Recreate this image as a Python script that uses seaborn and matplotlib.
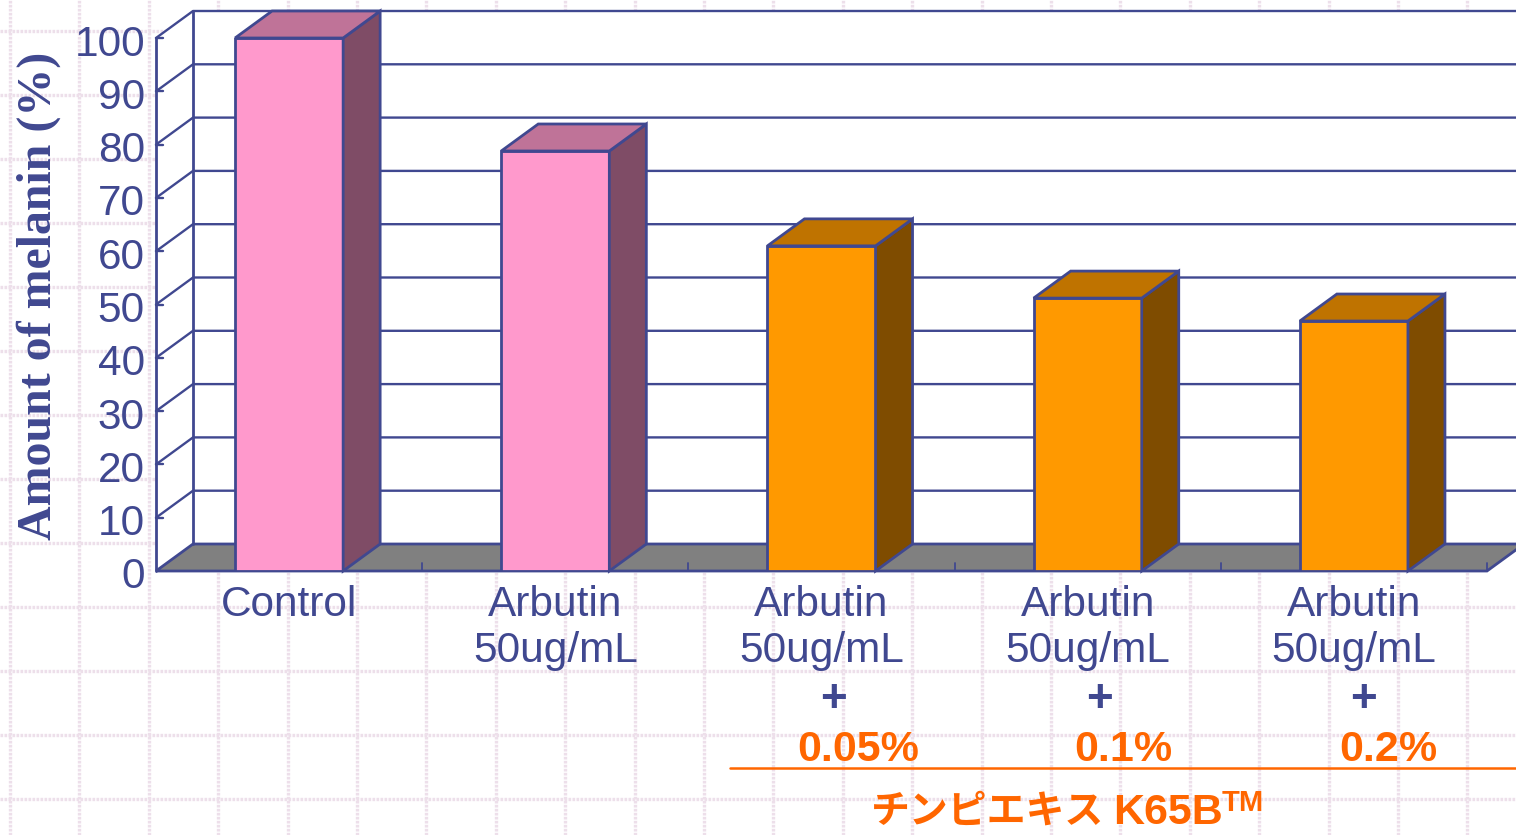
import numpy as np
import pandas as pd
import matplotlib.pyplot as plt
import matplotlib.transforms as mtrans
import seaborn as sns

# values
conditions = ['control', 'arbutin', 'k65b_005', 'k65b_01', 'k65b_02']
x_labels = ['Control', 'Arbutin\n50ug/mL', 'Arbutin\n50ug/mL', 'Arbutin\n50ug/mL', 'Arbutin\n50ug/mL']
melanin = [100, 78.8, 61, 51.2, 46.9]
groups = ['ref', 'ref', 'k65b', 'k65b', 'k65b']
y_ticks = [0, 10, 20, 30, 40, 50, 60, 70, 80, 90, 100]
extract_labels = ['0.05%', '0.1%', '0.2%']

navy = '#404890'
orange_txt = '#FF6600'
face = {'ref': '#FF99CC', 'k65b': '#FF9900'}
top = {'ref': '#BF7398', 'k65b': '#BF7300'}
side = {'ref': '#7F4C66', 'k65b': '#7F4C00'}

sns.set_style('white')
plt.rcParams['font.family'] = ['Liberation Sans', 'Noto Sans CJK JP']

W, H = 1516, 835
fig = plt.figure(figsize=(W / 100, H / 100), dpi=100)

# paper grid behind everything, axes in pixel units
bg = fig.add_axes([0, 0, 1, 1])
bg.set_xlim(0, W)
bg.set_ylim(H, 0)
bg.axis('off')
for gx in np.arange(10, W, 69.4):
    bg.axvline(gx, color='#EDDFEA', lw=2.4, ls=(0, (0.8, 0.4)))
for gy in np.arange(31, H, 64):
    bg.axhline(gy, color='#EDDFEA', lw=2.4, ls=(0, (0.8, 0.4)))

# front plane of the 3d box
ax = fig.add_axes([156 / W, (H - 571) / H, (1487 - 156) / W, 533 / H])
ax.patch.set_visible(False)

df = pd.DataFrame({'cond': conditions, 'melanin': melanin, 'group': groups})
sns.barplot(data=df, x='cond', y='melanin', hue='group', palette=face, dodge=False, saturation=1,
            width=0.406, edgecolor=navy, linewidth=2, legend=False, ax=ax, zorder=3)
ax.set_xlim(-0.5, 4.5)
ax.set_ylim(0, 100)

# depth offset in data units
dx = 37 / 266.2
dy = 27 / 5.33
xl, xr = -0.5, 4.5

wall = [(xl, 0), (xl, 100), (xl + dx, 100 + dy), (xr + dx, 100 + dy), (xr + dx, dy), (xr, 0)]
ax.fill(*zip(*wall), color='white', zorder=0, clip_on=False)
floor = [(xl, 0), (xl + dx, dy), (xr + dx, dy), (xr, 0)]
ax.fill(*zip(*floor), facecolor='#808080', edgecolor=navy, lw=2, zorder=1, clip_on=False)
ax.plot([xl, xl], [0, 100], color=navy, lw=2, zorder=2, clip_on=False)
ax.plot([xl + dx, xl + dx], [dy, 100 + dy], color=navy, lw=2, zorder=2, clip_on=False)
for t in y_ticks[1:]:
    ax.plot([xl, xl + dx, xr + dx], [t, t + dy, t + dy], color=navy, lw=1.7, zorder=2, clip_on=False)
    ax.plot([xl, xl + 0.028], [t, t], color=navy, lw=1.7, zorder=2, clip_on=False)
for tx in np.arange(0.5, 5):
    ax.plot([tx, tx], [0, 1.5], color=navy, lw=1.3, zorder=2, clip_on=False)

# side and top faces of each bar
for bar, g in zip(ax.patches, groups):
    x0, w, h = bar.get_x(), bar.get_width(), bar.get_height()
    x1 = x0 + w
    ax.fill([x1, x1 + dx, x1 + dx, x1], [0, dy, h + dy, h], facecolor=side[g], edgecolor=navy,
            lw=2, zorder=3, clip_on=False)
    ax.fill([x0, x1, x1 + dx, x0 + dx], [h, h, h + dy, h + dy], facecolor=top[g], edgecolor=navy,
            lw=2, zorder=3, clip_on=False)

sns.despine(ax=ax, left=True, bottom=True)
ax.set_yticks(y_ticks)
ax.set_xticks(range(5))
ax.set_xticklabels(x_labels)
ax.set_xlabel('')
ax.set_ylabel('')
ax.tick_params(axis='y', length=0, pad=8, labelsize=30.5, labelcolor=navy)
ax.tick_params(axis='x', length=0, pad=10, labelsize=30.5, labelcolor=navy)
# tick numbers sit a little below their ticks in the reference
shift_down = mtrans.ScaledTranslation(0, -2 / 100, fig.dpi_scale_trans)
for lab in ax.get_yticklabels():
    lab.set_transform(lab.get_transform() + shift_down)
for lab in ax.get_xticklabels():
    lab.set_linespacing(1.2)

# labels and notes, placed in pixel units on the background axes
bg.text(39, 296, 'Amount of melanin (%)', rotation=90, ha='center', va='center', color=navy,
        family='Liberation Serif', fontweight='bold', fontsize=34.5)
for x_plus, x_txt, txt in zip([833, 1099, 1364], [858, 1123, 1388], extract_labels):
    bg.text(x_plus, 700, '+', ha='center', va='center', color=navy, fontweight='bold', fontsize=33)
    bg.text(x_txt, 750, txt, ha='center', va='center', color=orange_txt, fontweight='bold', fontsize=31)
bg.plot([730, 1516], [768, 768], color=orange_txt, lw=1.8)
bg.text(871, 811, 'チンピエキス', ha='left', va='center', color=orange_txt,
        family='Noto Sans CJK JP', fontweight='bold', fontsize=28)
bg.text(1113, 813, 'K65B', ha='left', va='center', color=orange_txt, fontweight='bold', fontsize=31)
bg.text(1222, 803, 'TM', ha='left', va='center', color=orange_txt, fontweight='bold', fontsize=21)

fig.savefig('out.png', dpi=100)
